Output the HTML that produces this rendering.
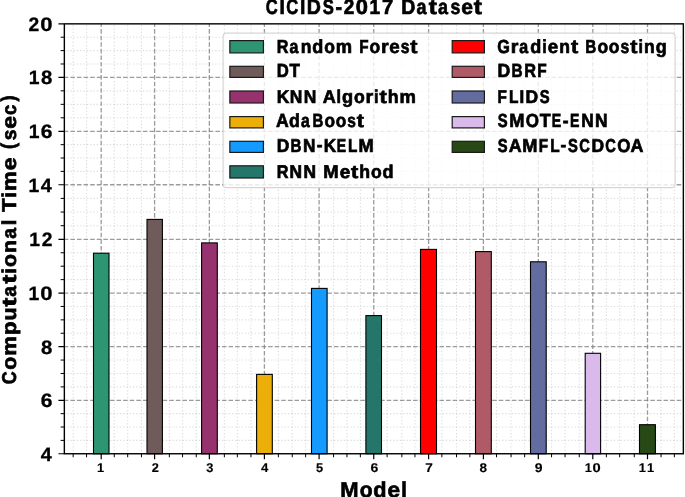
<!DOCTYPE html>
<html><head><meta charset="utf-8"><style>
html,body{margin:0;padding:0;background:#fff;}
svg{display:block;}
svg{will-change:transform;}
text{font-family:"Liberation Sans",sans-serif;font-weight:bold;fill:#000;stroke:#000;stroke-width:0.7px;text-rendering:geometricPrecision;}
</style></head><body>
<svg width="685" height="497" viewBox="0 0 685 497">
<rect x="0" y="0" width="685" height="497" fill="#fff"/>
<path d="M73.15 453.75V23.85M86.55 453.75V23.85M114.25 453.75V23.85M127.70 453.75V23.85M141.45 453.75V23.85M169.35 453.75V23.85M182.55 453.75V23.85M196.25 453.75V23.85M224.35 453.75V23.85M237.35 453.75V23.85M250.95 453.75V23.85M278.35 453.75V23.85M292.25 453.75V23.85M305.65 453.75V23.85M333.55 453.75V23.85M346.95 453.75V23.85M360.35 453.75V23.85M387.10 453.75V23.85M401.85 453.75V23.85M414.95 453.75V23.85M441.85 453.75V23.85M456.55 453.75V23.85M469.85 453.75V23.85M496.55 453.75V23.85M511.05 453.75V23.85M524.65 453.75V23.85M551.55 453.75V23.85M565.05 453.75V23.85M579.25 453.75V23.85M606.35 453.75V23.85M619.65 453.75V23.85M634.25 453.75V23.85M661.05 453.75V23.85M674.35 453.75V23.85" stroke="#b0b0b0" stroke-opacity="0.42" stroke-width="1.1" stroke-dasharray="1.35 1.94" stroke-dashoffset="0.4" fill="none"/>
<path d="M64.35 440.39H683.35M64.35 427.02H683.35M64.35 413.66H683.35M64.35 386.89H683.35M64.35 373.48H683.35M64.35 360.06H683.35M64.35 333.25H683.35M64.35 319.85H683.35M64.35 306.45H683.35M64.35 279.62H683.35M64.35 266.20H683.35M64.35 252.78H683.35M64.35 225.70H683.35M64.35 212.05H683.35M64.35 198.40H683.35M64.35 171.39H683.35M64.35 158.03H683.35M64.35 144.66H683.35M64.35 117.81H683.35M64.35 104.33H683.35M64.35 90.84H683.35M64.35 63.97H683.35M64.35 50.60H683.35M64.35 37.23H683.35" stroke="#b0b0b0" stroke-opacity="0.42" stroke-width="1.1" stroke-dasharray="1.35 1.944" stroke-dashoffset="0.55" fill="none"/>
<path d="M101.20 453.75V23.85M154.60 453.75V23.85M209.35 453.75V23.85M264.40 453.75V23.85M319.10 453.75V23.85M373.75 453.75V23.85M428.60 453.75V23.85M483.40 453.75V23.85M538.30 453.75V23.85M592.80 453.75V23.85M647.50 453.75V23.85" stroke="#808080" stroke-opacity="0.78" stroke-width="1.3" stroke-dasharray="4.55 2.02" stroke-dashoffset="0.4" fill="none"/>
<path d="M64.35 400.30H683.35M64.35 346.65H683.35M64.35 293.05H683.35M64.35 239.35H683.35M64.35 184.75H683.35M64.35 131.30H683.35M64.35 77.35H683.35" stroke="#808080" stroke-opacity="0.78" stroke-width="1.3" stroke-dasharray="4.56 2.03" stroke-dashoffset="0.55" fill="none"/>
<rect x="93.50" y="253.20" width="15.50" height="200.55" fill="#2E9572" stroke="#000" stroke-width="1.1"/>
<rect x="147.00" y="219.40" width="15.40" height="234.35" fill="#6F5B59" stroke="#000" stroke-width="1.1"/>
<rect x="201.60" y="242.90" width="15.70" height="210.85" fill="#96336E" stroke="#000" stroke-width="1.1"/>
<rect x="256.60" y="374.40" width="15.70" height="79.35" fill="#ECAE09" stroke="#000" stroke-width="1.1"/>
<rect x="311.50" y="288.40" width="15.60" height="165.35" fill="#159BFF" stroke="#000" stroke-width="1.1"/>
<rect x="365.90" y="315.60" width="15.60" height="138.15" fill="#24766A" stroke="#000" stroke-width="1.1"/>
<rect x="420.50" y="249.40" width="16.00" height="204.35" fill="#FF0000" stroke="#000" stroke-width="1.1"/>
<rect x="475.50" y="251.60" width="15.80" height="202.15" fill="#B05A68" stroke="#000" stroke-width="1.1"/>
<rect x="530.50" y="261.80" width="15.70" height="191.95" fill="#626C9F" stroke="#000" stroke-width="1.1"/>
<rect x="585.20" y="353.30" width="15.40" height="100.45" fill="#DABAEB" stroke="#000" stroke-width="1.1"/>
<rect x="639.50" y="424.70" width="15.90" height="29.05" fill="#284816" stroke="#000" stroke-width="1.1"/>
<rect x="223.1" y="33.1" width="452.00" height="154.60" rx="3.5" ry="3.5" fill="#fff" fill-opacity="0.8" stroke="#cccccc" stroke-opacity="0.8" stroke-width="1.2"/>
<rect x="229.85" y="40.60" width="33.55" height="12.30" fill="#2E9572" stroke="#1a1a1a" stroke-width="1.2"/>
<rect x="229.85" y="66.30" width="33.55" height="11.10" fill="#6F5B59" stroke="#1a1a1a" stroke-width="1.2"/>
<rect x="229.85" y="91.00" width="33.55" height="12.00" fill="#96336E" stroke="#1a1a1a" stroke-width="1.2"/>
<rect x="229.85" y="116.60" width="33.55" height="11.30" fill="#ECAE09" stroke="#1a1a1a" stroke-width="1.2"/>
<rect x="229.85" y="141.30" width="33.55" height="11.10" fill="#159BFF" stroke="#1a1a1a" stroke-width="1.2"/>
<rect x="229.85" y="165.80" width="33.55" height="12.20" fill="#24766A" stroke="#1a1a1a" stroke-width="1.2"/>
<rect x="452.20" y="40.60" width="32.2" height="12.30" fill="#FF0000" stroke="#1a1a1a" stroke-width="1.2"/>
<rect x="452.20" y="66.30" width="32.2" height="11.10" fill="#B05A68" stroke="#1a1a1a" stroke-width="1.2"/>
<rect x="452.20" y="91.00" width="32.2" height="12.00" fill="#626C9F" stroke="#1a1a1a" stroke-width="1.2"/>
<rect x="452.20" y="116.60" width="32.2" height="11.30" fill="#DABAEB" stroke="#1a1a1a" stroke-width="1.2"/>
<rect x="452.20" y="141.30" width="32.2" height="11.10" fill="#284816" stroke="#1a1a1a" stroke-width="1.2"/>
<g>
<text transform="translate(277.52,52.85)" y="0" font-size="18.90"><tspan x="-0.73" y="0.00" textLength="11.68" lengthAdjust="spacingAndGlyphs">R</tspan><tspan x="11.90" y="0.00" textLength="8.88" lengthAdjust="spacingAndGlyphs">a</tspan><tspan x="23.13" y="0.00" textLength="10.70" lengthAdjust="spacingAndGlyphs">n</tspan><tspan x="34.76" y="0.00" textLength="11.00" lengthAdjust="spacingAndGlyphs">d</tspan><tspan x="46.70" y="0.00" textLength="10.68" lengthAdjust="spacingAndGlyphs">o</tspan><tspan x="58.29" y="0.00" textLength="16.30" lengthAdjust="spacingAndGlyphs">m</tspan> <tspan x="81.78" y="0.00" textLength="9.33" lengthAdjust="spacingAndGlyphs">F</tspan><tspan x="92.01" y="0.00" textLength="10.68" lengthAdjust="spacingAndGlyphs">o</tspan><tspan x="103.52" y="0.00" textLength="7.66" lengthAdjust="spacingAndGlyphs">r</tspan><tspan x="111.61" y="0.00" textLength="10.45" lengthAdjust="spacingAndGlyphs">e</tspan><tspan x="123.24" y="0.00" textLength="8.76" lengthAdjust="spacingAndGlyphs">s</tspan><tspan x="132.80" y="0.00" textLength="7.19" lengthAdjust="spacingAndGlyphs">t</tspan></text>
<text transform="translate(277.52,76.90)" y="0" font-size="18.97"><tspan x="-0.77" y="0.00" textLength="12.06" lengthAdjust="spacingAndGlyphs">D</tspan><tspan x="12.02" y="0.00" textLength="10.39" lengthAdjust="spacingAndGlyphs">T</tspan></text>
<text transform="translate(277.52,102.60)" y="0" font-size="18.53"><tspan x="-0.82" y="0.00" textLength="12.59" lengthAdjust="spacingAndGlyphs">K</tspan><tspan x="12.17" y="0.00" textLength="12.59" lengthAdjust="spacingAndGlyphs">N</tspan><tspan x="26.20" y="0.00" textLength="12.59" lengthAdjust="spacingAndGlyphs">N</tspan> <tspan x="45.33" y="0.00" textLength="13.03" lengthAdjust="spacingAndGlyphs">A</tspan><tspan x="58.94" y="0.00" textLength="4.52" lengthAdjust="spacingAndGlyphs">l</tspan><tspan x="64.42" y="0.00" textLength="11.10" lengthAdjust="spacingAndGlyphs">g</tspan><tspan x="76.44" y="0.00" textLength="10.75" lengthAdjust="spacingAndGlyphs">o</tspan><tspan x="88.03" y="0.00" textLength="7.72" lengthAdjust="spacingAndGlyphs">r</tspan><tspan x="96.47" y="0.00" textLength="4.52" lengthAdjust="spacingAndGlyphs">i</tspan><tspan x="101.90" y="0.00" textLength="7.24" lengthAdjust="spacingAndGlyphs">t</tspan><tspan x="110.12" y="0.00" textLength="10.86" lengthAdjust="spacingAndGlyphs">h</tspan><tspan x="122.06" y="0.00" textLength="16.41" lengthAdjust="spacingAndGlyphs">m</tspan></text>
<text transform="translate(276.08,126.90)" y="0" font-size="18.97"><tspan x="-0.09" y="0.00" textLength="12.76" lengthAdjust="spacingAndGlyphs">A</tspan><tspan x="12.99" y="0.00" textLength="10.84" lengthAdjust="spacingAndGlyphs">d</tspan><tspan x="24.99" y="0.00" textLength="8.75" lengthAdjust="spacingAndGlyphs">a</tspan><tspan x="36.33" y="0.00" textLength="10.84" lengthAdjust="spacingAndGlyphs">B</tspan><tspan x="48.38" y="0.00" textLength="10.52" lengthAdjust="spacingAndGlyphs">o</tspan><tspan x="59.66" y="0.00" textLength="10.52" lengthAdjust="spacingAndGlyphs">o</tspan><tspan x="71.22" y="0.00" textLength="8.63" lengthAdjust="spacingAndGlyphs">s</tspan><tspan x="80.65" y="0.00" textLength="7.08" lengthAdjust="spacingAndGlyphs">t</tspan></text>
<text transform="translate(277.52,151.70)" y="0" font-size="18.68"><tspan x="-0.81" y="0.00" textLength="12.55" lengthAdjust="spacingAndGlyphs">D</tspan><tspan x="13.08" y="0.00" textLength="10.93" lengthAdjust="spacingAndGlyphs">B</tspan><tspan x="25.55" y="0.00" textLength="12.42" lengthAdjust="spacingAndGlyphs">N</tspan><tspan x="39.26" y="-0.23" textLength="5.74" lengthAdjust="spacingAndGlyphs">-</tspan><tspan x="46.27" y="0.00" textLength="12.42" lengthAdjust="spacingAndGlyphs">K</tspan><tspan x="59.31" y="0.00" textLength="9.36" lengthAdjust="spacingAndGlyphs">E</tspan><tspan x="70.53" y="0.00" textLength="9.37" lengthAdjust="spacingAndGlyphs">L</tspan><tspan x="80.89" y="0.00" textLength="15.16" lengthAdjust="spacingAndGlyphs">M</tspan></text>
<text transform="translate(277.52,177.50)" y="0" font-size="18.39"><tspan x="-0.74" y="0.00" textLength="11.72" lengthAdjust="spacingAndGlyphs">R</tspan><tspan x="12.06" y="0.00" textLength="12.56" lengthAdjust="spacingAndGlyphs">N</tspan><tspan x="26.06" y="0.00" textLength="12.56" lengthAdjust="spacingAndGlyphs">N</tspan> <tspan x="45.80" y="0.00" textLength="15.32" lengthAdjust="spacingAndGlyphs">M</tspan><tspan x="62.12" y="0.00" textLength="10.50" lengthAdjust="spacingAndGlyphs">e</tspan><tspan x="73.43" y="0.00" textLength="7.22" lengthAdjust="spacingAndGlyphs">t</tspan><tspan x="81.64" y="0.00" textLength="10.83" lengthAdjust="spacingAndGlyphs">h</tspan><tspan x="93.41" y="0.00" textLength="10.72" lengthAdjust="spacingAndGlyphs">o</tspan><tspan x="104.87" y="0.00" textLength="11.05" lengthAdjust="spacingAndGlyphs">d</tspan></text>
<text transform="translate(497.53,52.85)" y="0" font-size="18.90"><tspan x="-0.31" y="0.00" textLength="12.58" lengthAdjust="spacingAndGlyphs">G</tspan><tspan x="13.29" y="0.00" textLength="7.66" lengthAdjust="spacingAndGlyphs">r</tspan><tspan x="21.65" y="0.00" textLength="8.88" lengthAdjust="spacingAndGlyphs">a</tspan><tspan x="32.65" y="0.00" textLength="11.00" lengthAdjust="spacingAndGlyphs">d</tspan><tspan x="44.84" y="0.00" textLength="4.48" lengthAdjust="spacingAndGlyphs">i</tspan><tspan x="50.25" y="0.00" textLength="10.45" lengthAdjust="spacingAndGlyphs">e</tspan><tspan x="61.81" y="0.00" textLength="10.70" lengthAdjust="spacingAndGlyphs">n</tspan><tspan x="73.38" y="0.00" textLength="7.19" lengthAdjust="spacingAndGlyphs">t</tspan> <tspan x="87.69" y="0.00" textLength="11.01" lengthAdjust="spacingAndGlyphs">B</tspan><tspan x="99.91" y="0.00" textLength="10.68" lengthAdjust="spacingAndGlyphs">o</tspan><tspan x="111.35" y="0.00" textLength="10.68" lengthAdjust="spacingAndGlyphs">o</tspan><tspan x="123.07" y="0.00" textLength="8.76" lengthAdjust="spacingAndGlyphs">s</tspan><tspan x="132.63" y="0.00" textLength="7.19" lengthAdjust="spacingAndGlyphs">t</tspan><tspan x="140.91" y="0.00" textLength="4.48" lengthAdjust="spacingAndGlyphs">i</tspan><tspan x="146.59" y="0.00" textLength="10.70" lengthAdjust="spacingAndGlyphs">n</tspan><tspan x="158.21" y="0.00" textLength="11.02" lengthAdjust="spacingAndGlyphs">g</tspan></text>
<text transform="translate(498.22,76.90)" y="0" font-size="18.97"><tspan x="-0.83" y="0.00" textLength="12.74" lengthAdjust="spacingAndGlyphs">D</tspan><tspan x="13.26" y="0.00" textLength="11.10" lengthAdjust="spacingAndGlyphs">B</tspan><tspan x="25.99" y="0.00" textLength="11.78" lengthAdjust="spacingAndGlyphs">R</tspan><tspan x="38.98" y="0.00" textLength="9.41" lengthAdjust="spacingAndGlyphs">F</tspan></text>
<text transform="translate(498.22,102.60)" y="0" font-size="18.53"><tspan x="-0.67" y="0.00" textLength="9.33" lengthAdjust="spacingAndGlyphs">F</tspan><tspan x="10.70" y="0.00" textLength="9.44" lengthAdjust="spacingAndGlyphs">L</tspan><tspan x="21.22" y="0.00" textLength="4.69" lengthAdjust="spacingAndGlyphs">I</tspan><tspan x="27.38" y="0.00" textLength="12.64" lengthAdjust="spacingAndGlyphs">D</tspan><tspan x="41.62" y="0.00" textLength="9.89" lengthAdjust="spacingAndGlyphs">S</tspan></text>
<text transform="translate(497.89,126.90)" y="0" font-size="18.97"><tspan x="-0.08" y="0.00" textLength="9.89" lengthAdjust="spacingAndGlyphs">S</tspan><tspan x="11.45" y="0.00" textLength="15.26" lengthAdjust="spacingAndGlyphs">M</tspan><tspan x="27.86" y="0.00" textLength="13.20" lengthAdjust="spacingAndGlyphs">O</tspan><tspan x="41.76" y="0.00" textLength="10.88" lengthAdjust="spacingAndGlyphs">T</tspan><tspan x="53.83" y="0.00" textLength="9.43" lengthAdjust="spacingAndGlyphs">E</tspan><tspan x="64.84" y="-0.23" textLength="5.78" lengthAdjust="spacingAndGlyphs">-</tspan><tspan x="72.12" y="0.00" textLength="9.43" lengthAdjust="spacingAndGlyphs">E</tspan><tspan x="83.28" y="0.00" textLength="12.51" lengthAdjust="spacingAndGlyphs">N</tspan><tspan x="97.22" y="0.00" textLength="12.51" lengthAdjust="spacingAndGlyphs">N</tspan></text>
<text transform="translate(497.89,151.70)" y="0" font-size="18.68"><tspan x="-0.08" y="0.00" textLength="9.85" lengthAdjust="spacingAndGlyphs">S</tspan><tspan x="10.75" y="0.00" textLength="12.90" lengthAdjust="spacingAndGlyphs">A</tspan><tspan x="24.25" y="0.00" textLength="15.20" lengthAdjust="spacingAndGlyphs">M</tspan><tspan x="40.97" y="0.00" textLength="9.29" lengthAdjust="spacingAndGlyphs">F</tspan><tspan x="52.29" y="0.00" textLength="9.40" lengthAdjust="spacingAndGlyphs">L</tspan><tspan x="62.60" y="-0.23" textLength="5.76" lengthAdjust="spacingAndGlyphs">-</tspan><tspan x="70.02" y="0.00" textLength="9.85" lengthAdjust="spacingAndGlyphs">S</tspan><tspan x="81.43" y="0.00" textLength="10.59" lengthAdjust="spacingAndGlyphs">C</tspan><tspan x="93.74" y="0.00" textLength="12.58" lengthAdjust="spacingAndGlyphs">D</tspan><tspan x="107.38" y="0.00" textLength="10.59" lengthAdjust="spacingAndGlyphs">C</tspan><tspan x="119.47" y="0.00" textLength="13.15" lengthAdjust="spacingAndGlyphs">O</tspan><tspan x="132.63" y="0.00" textLength="12.90" lengthAdjust="spacingAndGlyphs">A</tspan></text>
</g>
<rect x="64.35" y="23.85" width="619.00" height="429.90" fill="none" stroke="#000" stroke-width="1.4"/>
<path d="M101.20 453.75v5.6M154.60 453.75v5.6M209.35 453.75v5.6M264.40 453.75v5.6M319.10 453.75v5.6M373.75 453.75v5.6M428.60 453.75v5.6M483.40 453.75v5.6M538.30 453.75v5.6M592.80 453.75v5.6M647.50 453.75v5.6M64.35 453.75h-5.9M64.35 400.30h-5.9M64.35 346.65h-5.9M64.35 293.05h-5.9M64.35 239.35h-5.9M64.35 184.75h-5.9M64.35 131.30h-5.9M64.35 77.35h-5.9M64.35 23.85h-5.9" stroke="#000" stroke-width="1.2" fill="none"/>
<path d="M73.15 453.75v3.5M86.55 453.75v3.5M114.25 453.75v3.5M127.70 453.75v3.5M141.45 453.75v3.5M169.35 453.75v3.5M182.55 453.75v3.5M196.25 453.75v3.5M224.35 453.75v3.5M237.35 453.75v3.5M250.95 453.75v3.5M278.35 453.75v3.5M292.25 453.75v3.5M305.65 453.75v3.5M333.55 453.75v3.5M346.95 453.75v3.5M360.35 453.75v3.5M387.10 453.75v3.5M401.85 453.75v3.5M414.95 453.75v3.5M441.85 453.75v3.5M456.55 453.75v3.5M469.85 453.75v3.5M496.55 453.75v3.5M511.05 453.75v3.5M524.65 453.75v3.5M551.55 453.75v3.5M565.05 453.75v3.5M579.25 453.75v3.5M606.35 453.75v3.5M619.65 453.75v3.5M634.25 453.75v3.5M661.05 453.75v3.5M674.35 453.75v3.5M64.35 440.39h-3.7M64.35 427.02h-3.7M64.35 413.66h-3.7M64.35 386.89h-3.7M64.35 373.48h-3.7M64.35 360.06h-3.7M64.35 333.25h-3.7M64.35 319.85h-3.7M64.35 306.45h-3.7M64.35 279.62h-3.7M64.35 266.20h-3.7M64.35 252.78h-3.7M64.35 225.70h-3.7M64.35 212.05h-3.7M64.35 198.40h-3.7M64.35 171.39h-3.7M64.35 158.03h-3.7M64.35 144.66h-3.7M64.35 117.81h-3.7M64.35 104.33h-3.7M64.35 90.84h-3.7M64.35 63.97h-3.7M64.35 50.60h-3.7M64.35 37.23h-3.7" stroke="#000" stroke-width="1.0" fill="none"/>
<text transform="translate(40.92,460.85)" y="0" font-size="19.40" style="stroke-width:0.3px"><tspan x="-0.15" y="0.00" textLength="11.04" lengthAdjust="spacingAndGlyphs">4</tspan></text>
<text transform="translate(41.37,407.40)" y="0" font-size="19.40" style="stroke-width:0.3px"><tspan x="-0.62" y="0.00" textLength="11.71" lengthAdjust="spacingAndGlyphs">6</tspan></text>
<text transform="translate(41.50,353.75)" y="0" font-size="19.40" style="stroke-width:0.3px"><tspan x="-0.50" y="0.00" textLength="11.32" lengthAdjust="spacingAndGlyphs">8</tspan></text>
<text transform="translate(29.61,300.15)" y="0" font-size="19.40" style="stroke-width:0.3px"><tspan x="-1.07" y="0.00" textLength="10.75" lengthAdjust="spacingAndGlyphs">1</tspan><tspan x="10.67" y="0.00" textLength="12.33" lengthAdjust="spacingAndGlyphs">0</tspan></text>
<text transform="translate(30.31,246.45)" y="0" font-size="19.40" style="stroke-width:0.3px"><tspan x="-1.07" y="0.00" textLength="10.75" lengthAdjust="spacingAndGlyphs">1</tspan><tspan x="11.45" y="0.00" textLength="10.71" lengthAdjust="spacingAndGlyphs">2</tspan></text>
<text transform="translate(29.57,191.85)" y="0" font-size="19.40" style="stroke-width:0.3px"><tspan x="-1.07" y="0.00" textLength="10.75" lengthAdjust="spacingAndGlyphs">1</tspan><tspan x="11.20" y="0.00" textLength="11.04" lengthAdjust="spacingAndGlyphs">4</tspan></text>
<text transform="translate(29.71,138.40)" y="0" font-size="19.40" style="stroke-width:0.3px"><tspan x="-1.07" y="0.00" textLength="10.75" lengthAdjust="spacingAndGlyphs">1</tspan><tspan x="11.03" y="0.00" textLength="11.71" lengthAdjust="spacingAndGlyphs">6</tspan></text>
<text transform="translate(29.86,84.45)" y="0" font-size="19.40" style="stroke-width:0.3px"><tspan x="-1.07" y="0.00" textLength="10.75" lengthAdjust="spacingAndGlyphs">1</tspan><tspan x="11.14" y="0.00" textLength="11.32" lengthAdjust="spacingAndGlyphs">8</tspan></text>
<text transform="translate(29.00,30.95)" y="0" font-size="19.40" style="stroke-width:0.3px"><tspan x="-0.52" y="0.00" textLength="10.71" lengthAdjust="spacingAndGlyphs">2</tspan><tspan x="11.28" y="0.00" textLength="12.33" lengthAdjust="spacingAndGlyphs">0</tspan></text>
<text transform="translate(97.73,471.90)" y="0" font-size="12.68" style="stroke-width:0.15px"><tspan x="-0.74" y="0.00" textLength="7.16" lengthAdjust="spacingAndGlyphs">1</tspan></text>
<text transform="translate(152.04,471.90)" y="0" font-size="12.68" style="stroke-width:0.15px"><tspan x="-0.37" y="0.00" textLength="7.13" lengthAdjust="spacingAndGlyphs">2</tspan></text>
<text transform="translate(206.57,471.90)" y="0" font-size="12.68" style="stroke-width:0.15px"><tspan x="-0.22" y="0.00" textLength="7.17" lengthAdjust="spacingAndGlyphs">3</tspan></text>
<text transform="translate(261.09,471.90)" y="0" font-size="12.68" style="stroke-width:0.15px"><tspan x="-0.12" y="0.00" textLength="7.34" lengthAdjust="spacingAndGlyphs">4</tspan></text>
<text transform="translate(316.22,471.90)" y="0" font-size="12.68" style="stroke-width:0.15px"><tspan x="-0.32" y="0.00" textLength="7.16" lengthAdjust="spacingAndGlyphs">5</tspan></text>
<text transform="translate(370.89,471.90)" y="0" font-size="12.68" style="stroke-width:0.15px"><tspan x="-0.44" y="0.00" textLength="7.80" lengthAdjust="spacingAndGlyphs">6</tspan></text>
<text transform="translate(425.72,471.90)" y="0" font-size="12.68" style="stroke-width:0.15px"><tspan x="-0.51" y="0.00" textLength="7.60" lengthAdjust="spacingAndGlyphs">7</tspan></text>
<text transform="translate(479.98,471.90)" y="0" font-size="12.68" style="stroke-width:0.15px"><tspan x="-0.36" y="0.00" textLength="7.54" lengthAdjust="spacingAndGlyphs">8</tspan></text>
<text transform="translate(535.14,471.90)" y="0" font-size="12.68" style="stroke-width:0.15px"><tspan x="-0.41" y="0.00" textLength="7.78" lengthAdjust="spacingAndGlyphs">9</tspan></text>
<text transform="translate(585.55,471.90)" y="0" font-size="12.68" style="stroke-width:0.15px"><tspan x="-0.74" y="0.00" textLength="7.16" lengthAdjust="spacingAndGlyphs">1</tspan><tspan x="7.02" y="0.00" textLength="8.20" lengthAdjust="spacingAndGlyphs">0</tspan></text>
<text transform="translate(639.43,471.90)" y="0" font-size="12.68" style="stroke-width:0.15px"><tspan x="-0.74" y="0.00" textLength="7.16" lengthAdjust="spacingAndGlyphs">1</tspan><tspan x="7.57" y="0.00" textLength="7.16" lengthAdjust="spacingAndGlyphs">1</tspan></text>
<text transform="translate(266.00,14.45)" y="0" font-size="21.08"><tspan x="-0.33" y="0.00" textLength="11.93" lengthAdjust="spacingAndGlyphs">C</tspan><tspan x="13.44" y="0.00" textLength="5.37" lengthAdjust="spacingAndGlyphs">I</tspan><tspan x="20.18" y="0.00" textLength="11.93" lengthAdjust="spacingAndGlyphs">C</tspan><tspan x="33.95" y="0.00" textLength="5.37" lengthAdjust="spacingAndGlyphs">I</tspan><tspan x="40.83" y="0.00" textLength="14.15" lengthAdjust="spacingAndGlyphs">D</tspan><tspan x="56.68" y="0.00" textLength="11.09" lengthAdjust="spacingAndGlyphs">S</tspan><tspan x="69.42" y="-0.26" textLength="6.54" lengthAdjust="spacingAndGlyphs">-</tspan><tspan x="77.68" y="0.00" textLength="10.54" lengthAdjust="spacingAndGlyphs">2</tspan><tspan x="89.79" y="0.00" textLength="12.19" lengthAdjust="spacingAndGlyphs">0</tspan><tspan x="103.57" y="0.00" textLength="10.56" lengthAdjust="spacingAndGlyphs">1</tspan><tspan x="115.95" y="0.00" textLength="11.24" lengthAdjust="spacingAndGlyphs">7</tspan> <tspan x="135.32" y="0.00" textLength="14.15" lengthAdjust="spacingAndGlyphs">D</tspan><tspan x="150.59" y="0.00" textLength="9.97" lengthAdjust="spacingAndGlyphs">a</tspan><tspan x="162.78" y="0.00" textLength="8.09" lengthAdjust="spacingAndGlyphs">t</tspan><tspan x="171.96" y="0.00" textLength="9.97" lengthAdjust="spacingAndGlyphs">a</tspan><tspan x="184.54" y="0.00" textLength="9.85" lengthAdjust="spacingAndGlyphs">s</tspan><tspan x="195.21" y="0.00" textLength="11.73" lengthAdjust="spacingAndGlyphs">e</tspan><tspan x="207.76" y="0.00" textLength="8.09" lengthAdjust="spacingAndGlyphs">t</tspan></text>
<text transform="translate(341.40,497.40)" y="0" font-size="21.44"><tspan x="-1.12" y="0.00" textLength="18.32" lengthAdjust="spacingAndGlyphs">M</tspan><tspan x="18.29" y="0.00" textLength="12.86" lengthAdjust="spacingAndGlyphs">o</tspan><tspan x="31.88" y="0.00" textLength="13.26" lengthAdjust="spacingAndGlyphs">d</tspan><tspan x="46.04" y="0.00" textLength="12.60" lengthAdjust="spacingAndGlyphs">e</tspan><tspan x="59.78" y="0.00" textLength="5.60" lengthAdjust="spacingAndGlyphs">l</tspan></text>
<text transform="translate(15.50,383.80) rotate(-90)" y="0" font-size="19.99"><tspan x="-0.39" y="0.00" textLength="12.94" lengthAdjust="spacingAndGlyphs">C</tspan><tspan x="14.08" y="0.00" textLength="13.00" lengthAdjust="spacingAndGlyphs">o</tspan><tspan x="28.00" y="0.00" textLength="19.76" lengthAdjust="spacingAndGlyphs">m</tspan><tspan x="48.91" y="0.00" textLength="13.40" lengthAdjust="spacingAndGlyphs">p</tspan><tspan x="63.25" y="0.00" textLength="13.04" lengthAdjust="spacingAndGlyphs">u</tspan><tspan x="77.21" y="0.00" textLength="8.79" lengthAdjust="spacingAndGlyphs">t</tspan><tspan x="87.13" y="0.00" textLength="10.83" lengthAdjust="spacingAndGlyphs">a</tspan><tspan x="100.29" y="0.00" textLength="8.79" lengthAdjust="spacingAndGlyphs">t</tspan><tspan x="110.18" y="0.00" textLength="5.67" lengthAdjust="spacingAndGlyphs">i</tspan><tspan x="116.82" y="0.00" textLength="13.00" lengthAdjust="spacingAndGlyphs">o</tspan><tspan x="130.82" y="0.00" textLength="13.04" lengthAdjust="spacingAndGlyphs">n</tspan><tspan x="145.09" y="0.00" textLength="10.83" lengthAdjust="spacingAndGlyphs">a</tspan><tspan x="158.57" y="0.00" textLength="5.67" lengthAdjust="spacingAndGlyphs">l</tspan> <tspan x="172.01" y="0.00" textLength="13.23" lengthAdjust="spacingAndGlyphs">T</tspan><tspan x="186.07" y="0.00" textLength="5.67" lengthAdjust="spacingAndGlyphs">i</tspan><tspan x="192.87" y="0.00" textLength="19.76" lengthAdjust="spacingAndGlyphs">m</tspan><tspan x="213.51" y="0.00" textLength="12.73" lengthAdjust="spacingAndGlyphs">e</tspan> <tspan x="234.91" y="-0.75" textLength="6.05" lengthAdjust="spacingAndGlyphs">(</tspan><tspan x="243.61" y="0.00" textLength="10.70" lengthAdjust="spacingAndGlyphs">s</tspan><tspan x="255.13" y="0.00" textLength="12.73" lengthAdjust="spacingAndGlyphs">e</tspan><tspan x="268.89" y="0.00" textLength="10.23" lengthAdjust="spacingAndGlyphs">c</tspan><tspan x="282.20" y="-0.75" textLength="6.05" lengthAdjust="spacingAndGlyphs">)</tspan></text>
</svg></body></html>
